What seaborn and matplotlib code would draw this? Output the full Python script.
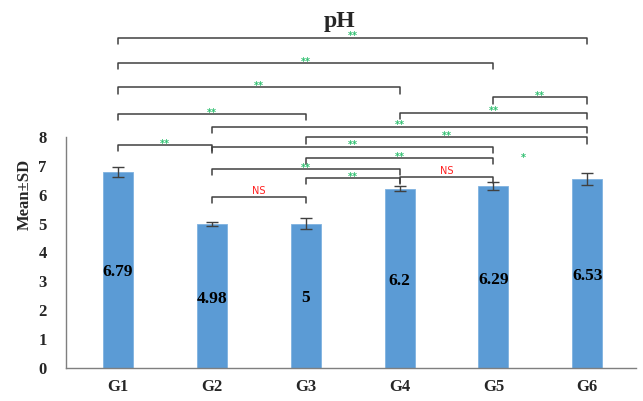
import matplotlib
matplotlib.use("Agg")
import matplotlib.pyplot as plt
import seaborn as sns
import pandas as pd

groups = ["G1", "G2", "G3", "G4", "G5", "G6"]
means = [6.79, 4.98, 5.00, 6.20, 6.29, 6.53]
sds = [0.17, 0.07, 0.18, 0.08, 0.13, 0.20]
value_labels = ["6.79", "4.98", "5", "6.2", "6.29", "6.53"]

# significance brackets: (left group, right group, height, label)
cmp_left = ["G1", "G1", "G1", "G5", "G1", "G4", "G2", "G3", "G1", "G2", "G3", "G2", "G4", "G3", "G2"]
cmp_right = ["G6", "G5", "G4", "G6", "G3", "G6", "G6", "G6", "G2", "G5", "G5", "G4", "G5", "G4", "G3"]
cmp_height = [11.42, 10.54, 9.71, 9.36, 8.78, 8.83, 8.35, 7.98, 7.71, 7.65, 7.26, 6.88, 6.62, 6.57, 5.93]
cmp_label = ["**", "**", "**", "**", "**", "**", "**", "**", "**", "**", "**", "**", "NS", "**", "NS"]
single_star_x = "G5"
single_star_y = 7.23

sns.set_theme(style="white")
plt.rcParams["font.family"] = ["Liberation Serif", "DejaVu Serif"]

fig = plt.figure(figsize=(6.43, 4.01), dpi=100)
ax = fig.add_axes([66 / 643, 0.0815, 570 / 643, 0.8665])

df = pd.DataFrame({"group": groups, "mean": means})
sns.barplot(data=df, x="group", y="mean", color="#5B9BD5", width=0.32,
            errorbar=None, ax=ax, saturation=1, edgecolor="#7FB2E0", linewidth=0.6)
ax.errorbar(range(len(groups)), means, yerr=sds, fmt="none", ecolor="#404040",
            elinewidth=1.0, capsize=4, capthick=1.0, zorder=3)

for i, (m, lab) in enumerate(zip(means, value_labels)):
    ax.text(i, m / 2 - 0.08, lab, ha="center", va="center", fontsize=12.5,
            fontweight="bold", color="black")

pos = {g: i for i, g in enumerate(groups)}
tick = 0.22
for l, r, h, lab in zip(cmp_left, cmp_right, cmp_height, cmp_label):
    x1, x2 = pos[l], pos[r]
    ax.plot([x1, x1, x2, x2], [h - tick, h, h, h - tick], color="#404040", lw=1.1,
            solid_joinstyle="round", zorder=4)
    if lab == "NS":
        ax.text((x1 + x2) / 2, h + 0.02, lab, ha="center", va="bottom", fontsize=7,
                color="#FF2020", family="DejaVu Sans")
    else:
        ax.text((x1 + x2) / 2, h - 0.12, lab, ha="center", va="bottom", fontsize=7,
                color="#2EBF6F", family="DejaVu Sans", fontweight="bold")
ax.text(pos[single_star_x] + 0.32, single_star_y - 0.15, "*", ha="center", va="bottom",
        fontsize=7, color="#2EBF6F", family="DejaVu Sans", fontweight="bold")

ax.set_xlim(-0.555, 5.52)
ax.set_ylim(0, 12)
ax.set_yticks(range(0, 9))
ax.set_yticklabels([str(v) for v in range(0, 9)], fontsize=12, fontweight="bold")
ax.set_xticks(range(len(groups)))
ax.set_xticklabels(groups, fontsize=12, fontweight="bold")
ax.tick_params(axis="both", length=0)
ax.tick_params(axis="y", pad=14)
ax.tick_params(axis="x", pad=8)
ax.set_xlabel("")
ax.set_ylabel("Mean±SD", fontsize=12, fontweight="bold", labelpad=4)

for s in ["top", "right"]:
    ax.spines[s].set_visible(False)
ax.spines["left"].set_bounds(0, 8)
ax.spines["left"].set_color("#7F7F7F")
ax.spines["bottom"].set_color("#7F7F7F")
ax.spines["left"].set_linewidth(1.0)
ax.spines["bottom"].set_linewidth(1.0)

fig.text(340 / 643, 1 - 22 / 401, "pH", ha="center", va="center", fontsize=17,
         fontweight="bold")

fig.savefig("out.png", dpi=100)
